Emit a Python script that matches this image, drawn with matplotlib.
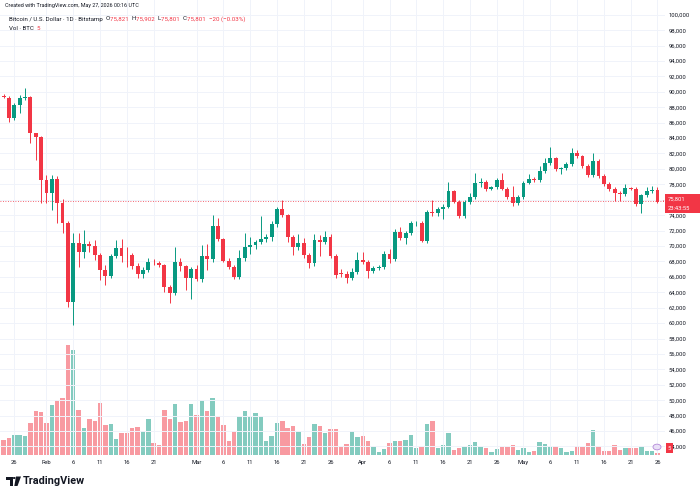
import matplotlib
matplotlib.use("Agg")
import matplotlib.pyplot as plt
from matplotlib.patches import Rectangle, Polygon, Circle

# daily BTC/USD candles, Jan 24 - May 27 2026
opens = [89500, 89200, 86560, 88290, 89150, 89300, 84600, 84200, 78560, 76870,
         78690, 75580, 72980, 62780, 70430, 69260, 70260, 70040, 68830, 66890,
         66110, 68700, 69700, 68700, 68790, 67390, 66370, 66890, 67970, 67840,
         67540, 64640, 63950, 67970, 67390, 65800, 66970, 65670, 68700, 68270,
         72600, 70870, 68090, 67220, 65930, 68400, 69870, 70130, 70560, 70870,
         71130, 72860, 74800, 73960, 71130, 69900, 70430, 68830, 67750, 70780,
         70560, 71210, 68700, 66500, 66400, 65800, 66670, 68180, 67970, 66800,
         67090, 67220, 69000, 68300, 71860, 71000, 71730, 72940, 73040, 70700,
         74460, 74240, 74760, 75110, 77070, 75770, 73830, 75770, 76320, 78140,
         78270, 77400, 77620, 78560, 77360, 76320, 75620, 76320, 78210, 78650,
         78560, 79770, 80800, 81370, 79950, 80080, 80640, 82100, 81670, 80380,
         79210, 81060, 79080, 78040, 77360, 76840, 76750, 77490, 77360, 75450,
         76620, 77070, 77270, 75821]
highs = [89700, 89400, 88500, 89600, 90450, 89400, 84700, 84300, 79200, 79200,
         79100, 76100, 73300, 71700, 71700, 72080, 70700, 70800, 69100, 67600,
         69000, 70780, 70870, 69900, 69100, 67800, 67300, 68400, 68300, 68000,
         67700, 65000, 69900, 68400, 67600, 67300, 67600, 70100, 70300, 74020,
         73590, 71100, 68400, 67500, 69500, 71730, 71200, 70800, 73890, 71500,
         73300, 75100, 75970, 74200, 71400, 71600, 71000, 69100, 71600, 71400,
         71960, 71500, 68900, 67000, 66700, 67100, 69260, 69260, 68200, 67400,
         67600, 69300, 69600, 72200, 72400, 71900, 73300, 73300, 73300, 74700,
         75970, 75000, 75400, 78350, 77300, 76000, 76000, 76900, 79510, 78800,
         78500, 77800, 78800, 79510, 77600, 77800, 76600, 78400, 79300, 78900,
         80400, 81400, 82880, 81600, 80300, 80900, 82700, 82400, 81800, 80700,
         82000, 81300, 79300, 78300, 77600, 77100, 78000, 77700, 77600, 76800,
         77700, 77800, 77700, 75902]
lows = [89200, 86100, 86300, 87200, 88900, 83360, 81150, 75600, 75600, 74670,
        73000, 71700, 62130, 59750, 67300, 68500, 69200, 68200, 65590, 64940,
        65800, 68400, 67960, 67300, 67000, 65900, 65900, 66600, 67500, 67300,
        64080, 62570, 63700, 66800, 64290, 63130, 65400, 65300, 66900, 67900,
        70600, 67900, 67000, 65700, 65700, 68100, 68900, 69600, 70200, 70500,
        70700, 72500, 73700, 70500, 68830, 69500, 68500, 67090, 67400, 68700,
        70300, 68500, 65800, 66000, 65200, 65600, 66400, 67700, 65900, 66500,
        66900, 67000, 67800, 68000, 70800, 70300, 71400, 72600, 70500, 70400,
        73900, 73900, 73500, 74900, 75600, 73600, 73600, 75500, 76100, 77600,
        77100, 77200, 77400, 77200, 76100, 75200, 75300, 76100, 78000, 78300,
        78300, 79500, 80500, 79700, 79300, 79900, 80400, 81400, 80100, 78900,
        79000, 78800, 77800, 77100, 75900, 75900, 76500, 77200, 75200, 74320,
        76300, 76900, 75600, 75801]
closes = [89300, 86560, 88290, 89150, 89300, 84640, 84200, 78560, 76870, 78690,
          75580, 72980, 62780, 70430, 69260, 70260, 70040, 68830, 66890, 66110,
          68700, 69700, 68700, 68650, 67390, 66370, 66890, 67970, 67900, 67540,
          64640, 63950, 67970, 67390, 65800, 66970, 65670, 68700, 68270, 72600,
          70870, 68090, 67220, 65930, 68400, 69870, 70130, 70560, 70870, 71130,
          72860, 74800, 73960, 71130, 69900, 70430, 68830, 67750, 70780, 70560,
          71210, 68700, 66240, 66400, 65800, 66670, 68180, 67970, 66800, 67090,
          67300, 69000, 68300, 71860, 71000, 71730, 72940, 73040, 70700, 74370,
          74240, 74760, 75110, 77070, 75770, 73830, 75770, 76320, 78140, 78350,
          77360, 77620, 78560, 77360, 76320, 75620, 76320, 78210, 78650, 78560,
          79770, 80800, 81370, 79950, 80080, 80640, 82100, 81670, 80380, 79210,
          81060, 79080, 78040, 77360, 76840, 76750, 77490, 77360, 75450, 76620,
          77070, 77270, 75770, 75801]
volumes = [600, 680, 800, 800, 750, 1270, 1760, 1720, 1280, 2000,
           2200, 2270, 4400, 4200, 1800, 1080, 1440, 1360, 2080, 1200,
           1240, 640, 880, 880, 1080, 1120, 960, 1440, 480, 400,
           1800, 1440, 2040, 1320, 1360, 2040, 1600, 2200, 1760, 2280,
           1560, 1200, 560, 960, 1560, 1760, 1560, 1680, 1560, 560,
           760, 1280, 1360, 1080, 1160, 960, 440, 720, 1240, 1160,
           880, 1040, 1040, 320, 440, 960, 720, 760, 560, 320,
           130, 230, 470, 550, 570, 610, 810, 270, 330, 1240,
           1360, 280, 400, 880, 210, 280, 310, 400, 510, 330,
           280, 110, 230, 310, 330, 400, 200, 280, 130, 150,
           530, 440, 330, 360, 280, 110, 170, 370, 330, 480,
           1000, 360, 170, 170, 390, 200, 270, 270, 270, 350,
           170, 170, 70, 5]

tick_pos = [2, 8, 13, 18, 23, 28, 36, 41, 46, 51, 56, 61,
            67, 72, 77, 82, 87, 92, 97, 102, 107, 112, 117, 122]
tick_labels = ["26", "Feb", "6", "11", "16", "21", "Mar", "6", "11", "16", "21", "26",
               "Apr", "6", "11", "16", "21", "26", "May", "6", "11", "16", "21", "26"]
price_ticks = list(range(44000, 100001, 2000))

UP = "#089981"
DOWN = "#f23645"
TXT = "#131722"
FONT = "Roboto"

W, H = 700, 497
fig = plt.figure(figsize=(7, 4.97), dpi=100)
fig.patch.set_facecolor("white")


def fx(x):
    return x / W


def fy(y):
    return 1 - y / H


ax = fig.add_axes([0, fy(455), fx(665), 1 - fy(455)])
axv = ax.twinx()
ax.set_zorder(2)
ax.patch.set_visible(False)
axv.set_zorder(1)

ax.set_xlim(-0.67, 123.4)
ax.set_ylim(42893, 101906)
axv.set_ylim(0, 18200)

n = len(opens)
for i in range(n):
    o, h, l, c = opens[i], highs[i], lows[i], closes[i]
    col = UP if c >= o else DOWN
    ax.plot([i, i], [l, h], color=col, lw=0.7, zorder=3, solid_capstyle="butt")
    lo, hi = min(o, c), max(o, c)
    if hi - lo < 80:
        hi = lo + 80
    ax.add_patch(Rectangle((i - 0.36, lo), 0.72, hi - lo, facecolor=col,
                           edgecolor="none", zorder=4))
    axv.bar(i, volumes[i], width=0.82, color=col, alpha=0.5, linewidth=0)

# last price line
ax.axhline(closes[-1], color=DOWN, lw=0.6, ls=(0, (1, 2)), zorder=2)

# grid
for t in tick_pos:
    ax.axvline(t, color="#f0f3fa", lw=0.7, zorder=0)
for p in price_ticks:
    ax.axhline(p, color="#f0f3fa", lw=0.7, zorder=0)

for s in ax.spines.values():
    s.set_visible(False)
for s in axv.spines.values():
    s.set_visible(False)
axv.set_yticks([])

ax.yaxis.tick_right()
ax.set_yticks(price_ticks)
ax.set_yticklabels([f"{p:,}" for p in price_ticks], fontsize=4.2,
                   color=TXT, family=FONT)
ax.tick_params(axis="y", length=0, pad=2.5)
ax.set_xticks(tick_pos)
ax.set_xticklabels(tick_labels, fontsize=4.2, color=TXT, family=FONT)
ax.tick_params(axis="x", length=0, pad=3.5)

# last price tag
fig.patches.append(Rectangle((fx(665), fy(213)), fx(35), fy(194) - fy(213),
                             transform=fig.transFigure, facecolor=DOWN,
                             edgecolor="none", zorder=5))
fig.text(fx(668), fy(199), "75,801", fontsize=4.2, color="white",
         family=FONT, va="center", ha="left", zorder=6)
fig.text(fx(668), fy(208), "23:43:55", fontsize=4.2, color="white",
         family=FONT, va="center", ha="left", zorder=6)

# volume tag
fig.patches.append(Rectangle((fx(666), fy(453)), fx(7), fy(443) - fy(453),
                             transform=fig.transFigure, facecolor=DOWN,
                             edgecolor="none", zorder=5))
fig.text(fx(669.5), fy(448), "5", fontsize=4.2, color="white",
         family=FONT, va="center", ha="center", zorder=6)
fig.patches.append(Circle((fx(657), fy(447)), 4 / W, transform=fig.transFigure,
                          facecolor="#e9e0f7", edgecolor="#b48ad8", lw=0.6, zorder=5))

# header
renderer = fig.canvas.get_renderer()


def write_parts(x, y, parts, size):
    for txt, col in parts:
        t = fig.text(fx(x), fy(y), txt, fontsize=size, color=col,
                     family=FONT, va="center", ha="left", zorder=6)
        bb = t.get_window_extent(renderer=renderer)
        x += bb.width


write_parts(5, 6, [("Created with TradingView.com, May 27, 2026 00:16 UTC", TXT)], 3.9)
write_parts(9, 19, [("Bitcoin / U.S. Dollar \u00b7 1D \u00b7 Bitstamp  ", TXT),
                    ("O", TXT), ("75,821  ", DOWN), ("H", TXT), ("75,902  ", DOWN),
                    ("L", TXT), ("75,801  ", DOWN), ("C", TXT), ("75,801  ", DOWN),
                    ("\u221220 (\u22120.03%)", DOWN)], 4.4)
write_parts(9, 28, [("Vol \u00b7 BTC  ", TXT), ("5", DOWN)], 4.4)

# TradingView logo
fig.patches.append(Rectangle((fx(6), fy(479.5)), fx(6.5), fy(476.5) - fy(479.5),
                             transform=fig.transFigure, facecolor=TXT, zorder=5))
fig.patches.append(Rectangle((fx(9.5), fy(486)), fx(3), fy(476.5) - fy(486),
                             transform=fig.transFigure, facecolor=TXT, zorder=5))
fig.patches.append(Circle((fx(14.2), fy(478)), 1.4 / W, transform=fig.transFigure,
                          facecolor=TXT, zorder=5))
fig.patches.append(Polygon([(fx(16), fy(476.5)), (fx(21), fy(476.5)),
                            (fx(17.5), fy(486)), (fx(14.3), fy(486))],
                           closed=True, transform=fig.transFigure,
                           facecolor=TXT, zorder=5))
fig.text(fx(22.5), fy(481.5), "TradingView", fontsize=7.8, color=TXT,
         family=FONT, weight="bold", va="center", ha="left")

fig.savefig("out.png", dpi=100, facecolor="white")
